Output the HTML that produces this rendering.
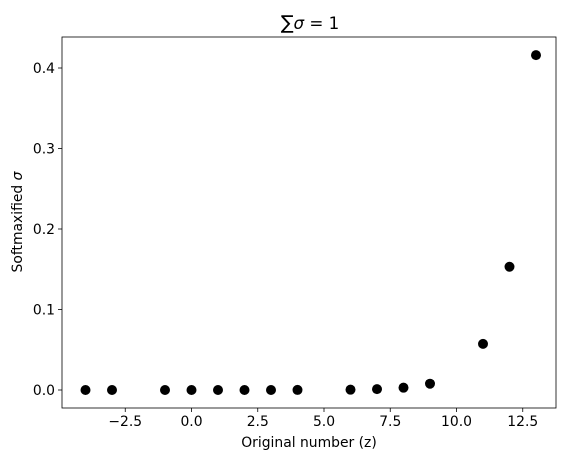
<!DOCTYPE html>
<html><head><meta charset="utf-8"><style>
body{margin:0;background:#fff;}
svg text{font-family:"DejaVu Sans","Liberation Sans",sans-serif;fill:#000;}
</style></head><body>
<svg id="chart" width="568" height="460" xmlns="http://www.w3.org/2000/svg">
<rect width="568" height="460" fill="#fff"/>
<text x="310" y="29" font-size="16.7" text-anchor="middle"><tspan font-size="19">∑</tspan><tspan font-style="italic">σ</tspan> = 1</text>
<g id="plot"></g>
<text x="309" y="447" font-size="13.9" text-anchor="middle">Original number (z)</text>
<text transform="translate(22,222) rotate(-90)" font-size="13.9" text-anchor="middle">Softmaxified <tspan font-style="italic">σ</tspan></text>
</svg>
<script>
const xs=[-4,-3,-1,0,1,2,3,4,6,7,8,9,11,12,13];
const ys=[0.0000,0.0000,0.0000,0.0000,0.0000,0.0000,0.0000,0.0001,0.0004,0.0011,0.0029,0.0078,0.0573,0.1531,0.4160];
const xTicks=[-2.5,0,2.5,5,7.5,10,12.5];
const xTickLabels=["−2.5","0.0","2.5","5.0","7.5","10.0","12.5"];
const yTicks=[0,0.1,0.2,0.3,0.4];
const yTickLabels=["0.0","0.1","0.2","0.3","0.4"];
const L=62,R=556,T=37,B=408;
const xScale=v=>191.5+v*26.5;
const yScale=v=>390-v*805;
const ns="http://www.w3.org/2000/svg";
const g=document.getElementById('plot');
function mk(t,a){const e=document.createElementNS(ns,t);for(const k in a)e.setAttribute(k,a[k]);g.appendChild(e);return e;}
xTicks.forEach((v,i)=>{
  const x=xScale(v);
  const l=mk('line',{x1:x,x2:x,y1:B,y2:B+4,stroke:'#000','stroke-width':0.8});
  
  
  const t=mk('text',{x:x,y:B+18,'font-size':13.9,'text-anchor':'middle'});
  t.textContent=xTickLabels[i];
  
  
});
yTicks.forEach((v,i)=>{
  const y=yScale(v);
  const l=mk('line',{x1:L-4,x2:L,y1:y,y2:y,stroke:'#000','stroke-width':0.8});
  
  
  const t=mk('text',{x:L-7,y:y+5,'font-size':13.9,'text-anchor':'end'});
  t.textContent=yTickLabels[i];
  
  
});
xs.forEach((v,i)=>{
  const c=mk('circle',{cx:xScale(v),cy:yScale(ys[i]),r:5,fill:'#000'});
  
  
});
const f=mk('rect',{x:L,y:T,width:R-L,height:B-T,fill:'none',stroke:'#000','stroke-width':0.8});


</script>
</body></html>
